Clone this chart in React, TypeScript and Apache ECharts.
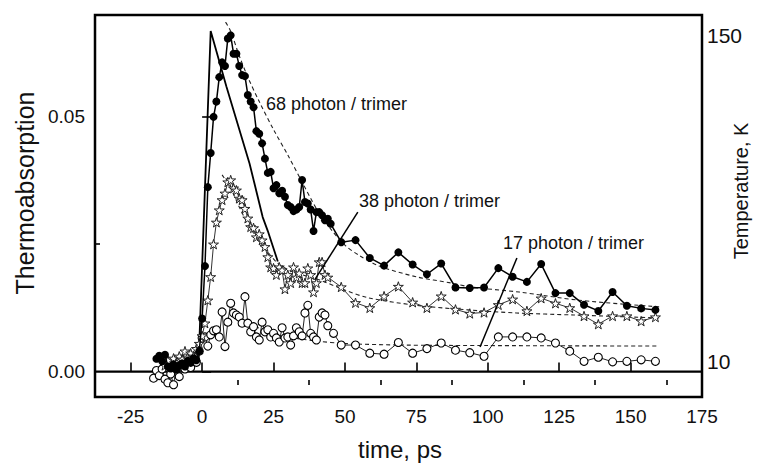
import React, { useEffect, useRef } from "react";
import * as echarts from "echarts";

const FONT = "'Liberation Sans', Arial, Helvetica, sans-serif";

// axis ticks / labels
const xLabelTicks = [-25, 0, 25, 50, 75, 100, 125, 150, 175];
const xMinorTicks = [-12.5, 12.5, 37.5, 62.5, 87.5, 112.5, 137.5, 162.5];
const yLabelTicks = [0, 0.05];
const yMinorTicks = [0.025];
const tempLabelTicks = [10, 150];

// 68 photon / trimer (filled circles)
const photon68Early: [number, number][] = [
  [-16, 0.0025], [-15, 0.0031], [-14, 0.002], [-13, 0.0033], [-12, 0.001], [-11, 0.0006],
  [-10, 0.0014], [-9, 0.0004], [-8, 0.0012], [-7, 0.0016], [-6, 0.001], [-5, 0.0021],
  [-4, 0.0017], [-3, 0.0026], [-2, 0.0022], [-1, 0.004], [0, 0.0104], [1, 0.0207],
  [2, 0.0362], [3, 0.0429], [4, 0.05], [5, 0.053], [6, 0.0578], [7, 0.0607], [8, 0.06],
  [9, 0.0654], [10, 0.066], [11, 0.0624], [12, 0.0624], [13, 0.06], [14, 0.0582], [15, 0.058],
  [16, 0.0543], [17, 0.053], [18, 0.0519], [19, 0.0472], [20, 0.0467], [21, 0.0448],
  [22, 0.0418], [23, 0.039], [24, 0.0392], [25, 0.036], [26, 0.0366], [27, 0.035],
  [28, 0.0355], [29, 0.0343], [30, 0.0327], [31, 0.0323], [32, 0.0315], [33, 0.0318],
  [34, 0.0323], [35, 0.0376], [36, 0.0333], [37, 0.033], [38, 0.0318], [39, 0.0276],
  [40, 0.0313], [41, 0.0313], [42, 0.0307], [43, 0.0297], [44, 0.03], [45, 0.029],
];
const tailTimes = [
  48.7, 53.7, 58.7, 63.7, 68.7, 73.7, 78.7, 83.7, 88.7, 93.7, 98.7, 103.7,
  108.7, 113.7, 118.7, 123.7, 128.7, 133.7, 138.7, 143.7, 148.7, 153.7, 158.7,
];
const photon68Tail = [
  0.0254, 0.0258, 0.0223, 0.0208, 0.0234, 0.021, 0.0191, 0.0212, 0.0165, 0.0164, 0.0165, 0.0203,
  0.0186, 0.0176, 0.0211, 0.0154, 0.0154, 0.0131, 0.0119, 0.0156, 0.0129, 0.0124, 0.0121,
];

// 38 photon / trimer (stars)
const photon38Early: [number, number][] = [
  [-13, 0.0012], [-12, 0.0022], [-11, 0.0008], [-10, 0.0026], [-9, 0.0018], [-8, 0.003],
  [-7, 0.0024], [-6, 0.004], [-5, 0.0028], [-4, 0.0036], [-3, 0.003], [-2, 0.0045],
  [-1, 0.0055], [0, 0.007], [1, 0.0095], [2, 0.014], [3, 0.0186], [4, 0.025], [5, 0.0293],
  [6, 0.0317], [7, 0.0337], [8, 0.035], [9, 0.0372], [10, 0.0376], [11, 0.036], [12, 0.0356],
  [13, 0.034], [14, 0.0337], [15, 0.032], [16, 0.0301], [17, 0.0284], [18, 0.0282],
  [19, 0.0264], [20, 0.027], [21, 0.0258], [22, 0.0245], [23, 0.0225], [24, 0.0205],
  [25, 0.0203], [26, 0.019], [27, 0.0205], [28, 0.0199], [29, 0.0162], [30, 0.019],
  [31, 0.0174], [32, 0.0205], [33, 0.0185], [34, 0.0193], [35, 0.0174], [36, 0.0174],
  [37, 0.0203], [38, 0.019], [39, 0.0156], [40, 0.0174], [41, 0.0215], [42, 0.0215],
  [43, 0.019], [44, 0.0185],
];
const photon38Tail = [
  0.0166, 0.0135, 0.0125, 0.0148, 0.0167, 0.0136, 0.0125, 0.0148, 0.0122, 0.0114, 0.0116, 0.0131,
  0.0142, 0.0119, 0.0144, 0.0134, 0.0125, 0.0109, 0.0093, 0.0109, 0.0109, 0.0099, 0.0107,
];

// 17 photon / trimer (open circles)
const photon17Early: [number, number][] = [
  [-17, -0.0013], [-16, 0.0002], [-15, -0.0008], [-14, 0.0005], [-13, -0.0015], [-12, -0.0022],
  [-11, -0.0005], [-10, -0.0026], [-9, 0.001], [-8, -0.001], [-7, 0.0015], [-6, 0.0005],
  [-5, 0.002], [-4, 0.0008], [-3, 0.003], [-2, 0.0018], [-1, 0.004], [0, 0.0066],
  [1, 0.0068], [2, 0.005], [3, 0.0072], [4, 0.008], [5, 0.0082], [6, 0.0068], [7, 0.0117],
  [8, 0.0049], [9, 0.0097], [10, 0.0134], [11, 0.0115], [12, 0.0111], [13, 0.0107],
  [14, 0.0095], [15, 0.0147], [16, 0.0095], [17, 0.0078], [18, 0.0088], [19, 0.0068],
  [20, 0.0062], [21, 0.0097], [22, 0.0078], [23, 0.0082], [24, 0.0068], [25, 0.0075],
  [26, 0.0066], [27, 0.0058], [28, 0.0086], [29, 0.0066], [30, 0.0068], [31, 0.0052],
  [32, 0.007], [33, 0.0086], [34, 0.0078], [35, 0.007], [36, 0.0115], [37, 0.013],
  [38, 0.0075], [39, 0.0068], [40, 0.0062], [41, 0.0107], [42, 0.0115], [43, 0.0111],
  [44, 0.009], [46, 0.0075],
];
const photon17Tail = [
  0.0052, 0.0052, 0.0036, 0.0034, 0.0057, 0.0036, 0.0045, 0.0056, 0.0042, 0.0037, 0.003, 0.0068,
  0.0068, 0.0068, 0.0066, 0.0056, 0.004, 0.002, 0.0028, 0.0019, 0.002, 0.0023, 0.002,
];

// dashed fits
const fit68: [number, number][] = [
  [8.2, 0.0686], [10, 0.0668], [13, 0.062], [16, 0.0578], [20, 0.053], [25, 0.0475],
  [30, 0.0425], [35, 0.0372], [40, 0.032], [45, 0.028], [50, 0.0248], [55, 0.0228],
  [62, 0.0207], [75, 0.0186], [87, 0.0174], [94, 0.0166], [111, 0.0156], [132, 0.014],
  [160, 0.0127],
];
const fit38: [number, number][] = [
  [7, 0.0386], [10, 0.036], [13, 0.0323], [17, 0.028], [22, 0.0242], [26, 0.0215],
  [30, 0.02], [35, 0.019], [41, 0.018], [50, 0.016], [58, 0.0145], [75, 0.013],
  [93, 0.0121], [110, 0.0115], [130, 0.0111], [160, 0.0105],
];
const fit17: [number, number][] = [
  [10, 0.0115], [15, 0.0098], [20, 0.0085], [30, 0.0068], [40, 0.006], [50, 0.0055],
  [70, 0.0052], [100, 0.0051], [160, 0.005],
];

// temperature (K), right axis
const temperature: [number, number][] = [
  [-1.2, 10.7], [3, 151.7], [8.5, 128], [16.6, 95], [21.2, 72], [23, 66], [26.5, 53],
];

// zero baseline
const zeroLine: [number, number][] = [[-37.5, 0], [175, 0]];

// annotation leader lines (data coordinates)
const leader38: [number, number][] = [[54.5, 0.0313], [39.4, 0.018]];
const leader17: [number, number][] = [[110.2, 0.0223], [97.3, 0.0048]];

const STAR = "path://M50 0 L61 35 L98 35 L68 57 L79 91 L50 70 L21 91 L32 57 L2 35 L39 35 Z";

const withTail = (early: [number, number][], tail: number[]) =>
  early.concat(tail.map((v, i) => [tailTimes[i], v] as [number, number]));

export default function App() {
  const ref = useRef<HTMLDivElement>(null);
  useEffect(() => {
    if (!ref.current) return;
    const chart = echarts.init(ref.current, undefined, { renderer: "svg" });
    const tickLabel = { color: "#111", fontFamily: FONT, fontSize: 19 };
    const dashed = (data: [number, number][]) => ({
      type: "line",
      data,
      showSymbol: false,
      symbol: "none",
      smooth: 0.3,
      lineStyle: { color: "#222", width: 1.1, type: [4, 3] },
      z: 3,
    });
    chart.setOption({
      animation: false,
      backgroundColor: "#fff",
      grid: {
        left: 95,
        right: 56,
        top: 15,
        bottom: 69,
        show: true,
        borderColor: "#000",
        borderWidth: 2.5,
      },
      xAxis: [
        {
          type: "value",
          min: -37.5,
          max: 175,
          position: "bottom",
          axisLine: { show: false },
          splitLine: { show: false },
          axisTick: {
            show: true,
            inside: true,
            length: 9,
            customValues: xLabelTicks,
            lineStyle: { color: "#000", width: 1.6 },
          },
          axisLabel: { ...tickLabel, margin: 10, customValues: xLabelTicks },
        },
        {
          type: "value",
          min: -37.5,
          max: 175,
          position: "bottom",
          axisLine: { show: false },
          splitLine: { show: false },
          axisTick: {
            show: true,
            inside: true,
            length: 5,
            customValues: xMinorTicks,
            lineStyle: { color: "#000", width: 1.6 },
          },
          axisLabel: { show: false },
        },
      ],
      yAxis: [
        {
          type: "value",
          min: -0.005,
          max: 0.07,
          position: "left",
          axisLine: { show: false },
          splitLine: { show: false },
          axisTick: {
            show: true,
            inside: true,
            length: 9,
            customValues: yLabelTicks,
            lineStyle: { color: "#000", width: 1.6 },
          },
          axisLabel: {
            ...tickLabel,
            margin: 10,
            customValues: yLabelTicks,
            formatter: (v: number) => v.toFixed(2),
          },
        },
        {
          type: "value",
          min: -5.1,
          max: 158.6,
          position: "right",
          axisLine: { show: false },
          splitLine: { show: false },
          axisTick: { show: false },
          axisLabel: {
            color: "#111",
            fontFamily: FONT,
            fontSize: 21,
            margin: 5,
            customValues: tempLabelTicks,
          },
        },
        {
          type: "value",
          min: -0.005,
          max: 0.07,
          position: "left",
          axisLine: { show: false },
          splitLine: { show: false },
          axisTick: {
            show: true,
            inside: true,
            length: 5,
            customValues: yMinorTicks,
            lineStyle: { color: "#000", width: 1.6 },
          },
          axisLabel: { show: false },
        },
      ],
      graphic: [
        {
          type: "text",
          x: 25,
          y: 193,
          rotation: Math.PI / 2,
          style: {
            text: "Thermoabsorption",
            font: `25px ${FONT}`,
            fill: "#111",
            textAlign: "center",
            textVerticalAlign: "middle",
          },
        },
        {
          type: "text",
          x: 741,
          y: 191,
          rotation: Math.PI / 2,
          style: {
            text: "Temperature, K",
            font: `20px ${FONT}`,
            fill: "#111",
            textAlign: "center",
            textVerticalAlign: "middle",
          },
        },
        {
          type: "text",
          x: 400,
          y: 449,
          style: {
            text: "time, ps",
            font: `24px ${FONT}`,
            fill: "#111",
            textAlign: "center",
            textVerticalAlign: "middle",
          },
        },
        {
          type: "text",
          x: 266,
          y: 104,
          style: { text: "68 photon / trimer", font: `18px ${FONT}`, fill: "#111", textVerticalAlign: "middle" },
        },
        {
          type: "text",
          x: 359,
          y: 201,
          style: { text: "38 photon / trimer", font: `18px ${FONT}`, fill: "#111", textVerticalAlign: "middle" },
        },
        {
          type: "text",
          x: 503,
          y: 243,
          style: { text: "17 photon / trimer", font: `18px ${FONT}`, fill: "#111", textVerticalAlign: "middle" },
        },
      ],
      series: [
        {
          type: "line",
          data: zeroLine,
          symbol: "none",
          lineStyle: { color: "#000", width: 2.2 },
          z: 2,
        },
        {
          type: "line",
          data: temperature,
          yAxisIndex: 1,
          symbol: "none",
          lineStyle: { color: "#000", width: 1.8 },
          z: 3,
        },
        dashed(fit68),
        dashed(fit38),
        dashed(fit17),
        {
          type: "line",
          data: withTail(photon17Early, photon17Tail),
          symbol: "circle",
          symbolSize: 8,
          showAllSymbol: true,
          lineStyle: { color: "#222", width: 1 },
          itemStyle: { color: "#fff", borderColor: "#000", borderWidth: 1.1 },
          z: 4,
        },
        {
          type: "line",
          data: withTail(photon38Early, photon38Tail),
          symbol: STAR,
          symbolSize: 10,
          symbolKeepAspect: true,
          showAllSymbol: true,
          lineStyle: { color: "#333", width: 1 },
          itemStyle: { color: "#fff", borderColor: "#222", borderWidth: 1 },
          z: 5,
        },
        {
          type: "line",
          data: withTail(photon68Early, photon68Tail),
          symbol: "circle",
          symbolSize: 8,
          showAllSymbol: true,
          lineStyle: { color: "#000", width: 1.5 },
          itemStyle: { color: "#000" },
          z: 6,
        },
        {
          type: "line",
          data: leader38,
          symbol: "none",
          lineStyle: { color: "#000", width: 1.5 },
          z: 7,
        },
        {
          type: "line",
          data: leader17,
          symbol: "none",
          lineStyle: { color: "#000", width: 1.5 },
          z: 7,
        },
      ],
    });
    return () => chart.dispose();
  }, []);
  return (
    <div
      ref={ref}
      style={{ position: "fixed", left: 0, top: 0, width: 758, height: 466 }}
    />
  );
}
